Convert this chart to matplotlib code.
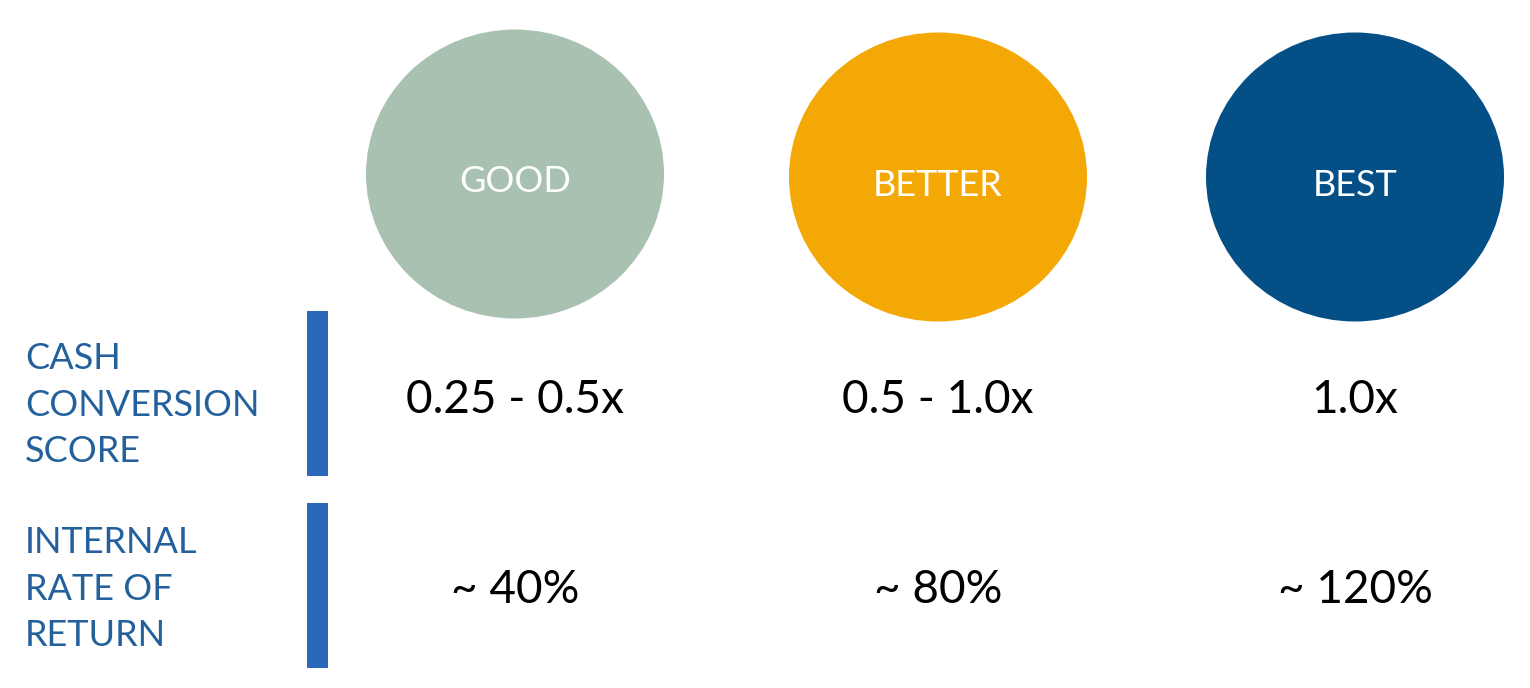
import matplotlib.pyplot as plt
from matplotlib.patches import Ellipse, Rectangle

# data
tiers = ['GOOD', 'BETTER', 'BEST']
tier_colors = ['#a9c1b1', '#f3a806', '#034f86']
metrics = ['CASH\nCONVERSION\nSCORE', 'INTERNAL\nRATE OF\nRETURN']
cash_conversion = ['0.25 - 0.5x', '0.5 - 1.0x', '1.0x']
irr = ['~ 40%', '~ 80%', '~ 120%']

plt.rcParams['font.family'] = ['Lato', 'DejaVu Sans']

fig = plt.figure(figsize=(15.3, 6.88), dpi=100)
ax = fig.add_axes([0, 0, 1, 1])
ax.set_xlim(0, 1530)
ax.set_ylim(688, 0)
ax.axis('off')

col_x = [515, 938, 1355]
circle_y = [174, 177, 177]

# circles
for x, y, name, c in zip(col_x, circle_y, tiers, tier_colors):
    ax.add_patch(Ellipse((x, y), 298, 289, color=c, lw=0))
    ax.text(x, y + 8, name, ha='center', va='center', color='white',
            fontsize=26)

# metric rows
row_y = [400, 590]
label_y = [405, 589]
bar_top = [311, 503]
for i, (label, vals) in enumerate(zip(metrics, [cash_conversion, irr])):
    ax.add_patch(Rectangle((307, bar_top[i]), 21, 165, color='#2a68ba', lw=0))
    ax.text(25, label_y[i], label, ha='left', va='center', color='#23609c',
            fontsize=26, linespacing=1.49)
    for x, v in zip(col_x, vals):
        ax.text(x, row_y[i], v, ha='center', va='center', color='black',
                fontsize=33)

fig.savefig('out.png', dpi=100)
